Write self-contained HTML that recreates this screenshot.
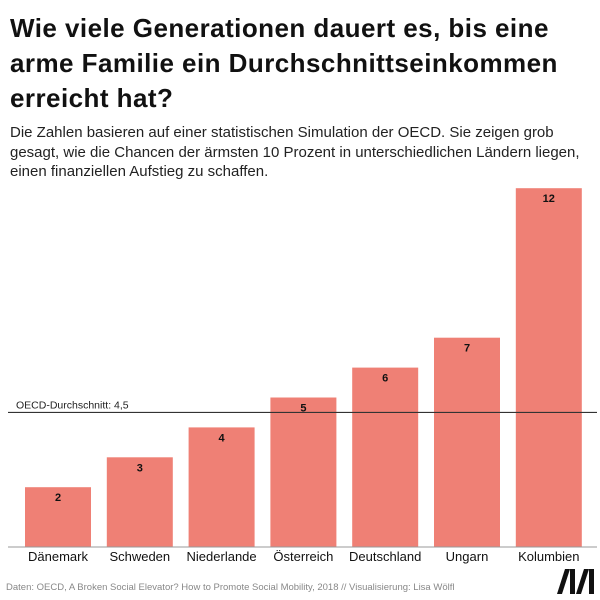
<!DOCTYPE html>
<html><head><meta charset="utf-8"><style>
body{margin:0;width:600px;height:600px;background:#fff;font-family:"Liberation Sans",sans-serif;overflow:hidden;position:relative}
h1{position:absolute;left:10px;top:11px;margin:0;font-size:26px;line-height:35px;font-weight:bold;color:#111;letter-spacing:0.45px;width:600px;white-space:nowrap}
p.sub{position:absolute;left:10px;top:123px;margin:0;font-size:15px;line-height:19.5px;color:#222;width:590px}
.foot{position:absolute;left:6px;top:582px;font-size:9.5px;color:#888}
</style></head><body>
<h1>Wie viele Generationen dauert es, bis eine<br>arme Familie ein Durchschnittseinkommen<br>erreicht hat?</h1>
<p class="sub">Die Zahlen basieren auf einer statistischen Simulation der OECD. Sie zeigen grob gesagt, wie die Chancen der ärmsten 10 Prozent in unterschiedlichen Ländern liegen, einen finanziellen Aufstieg zu schaffen.</p>
<svg id="chart" width="600" height="600" style="position:absolute;left:0;top:0"></svg>
<div class="foot">Daten: OECD, A Broken Social Elevator? How to Promote Social Mobility, 2018 // Visualisierung: Lisa Wölfl</div>
<svg width="40" height="26" style="position:absolute;left:557px;top:569px">
<polygon points="0,25 8,0 13,0 5,25" fill="#111"/><rect x="13" y="0" width="5" height="25" fill="#111"/>
<polygon points="19,25 27,0 32,0 24,25" fill="#111"/><rect x="32" y="0" width="5" height="25" fill="#111"/>
</svg>
<script>
const categories=["Dänemark","Schweden","Niederlande","Österreich","Deutschland","Ungarn","Kolumbien"];
const values=[2,3,4,5,6,7,12];
const average=[4.5];
const avgLabel=["OECD-Durchschnitt: 4,5"];
const svg=document.getElementById('chart');
const NS='http://www.w3.org/2000/svg';
const base=547, unit=29.9, x0=25, step=81.8, bw=66;
const y=v=>base-v*unit;
const x=i=>x0+i*step;
function mk(t,a){const e=document.createElementNS(NS,t);for(const k in a)e.setAttribute(k,a[k]);svg.appendChild(e);return e;}
values.forEach((v,i)=>{
 const r=mk('rect',{x:x(i),y:y(v),width:bw,height:v*unit,fill:'#ef8075'});
 
 
 const t=mk('text',{x:x(i)+bw/2,y:y(v)+14,'text-anchor':'middle','font-size':'11','font-weight':'bold',fill:'#111'});
 t.textContent=v;
 
 
 const c=mk('text',{x:x(i)+bw/2,y:561,'text-anchor':'middle','font-size':'13',fill:'#111'});
 c.textContent=categories[i];
 
 
});
const ax=mk('line',{x1:8,x2:597,y1:base,y2:base,stroke:'#999','stroke-width':1});


const al=mk('line',{x1:8,x2:597,y1:y(average[0]),y2:y(average[0]),stroke:'#333','stroke-width':1.2});


const at=mk('text',{x:16,y:y(average[0])-4,'font-size':'10.5',fill:'#222'});
at.textContent=avgLabel[0];


</script>
</body></html>
